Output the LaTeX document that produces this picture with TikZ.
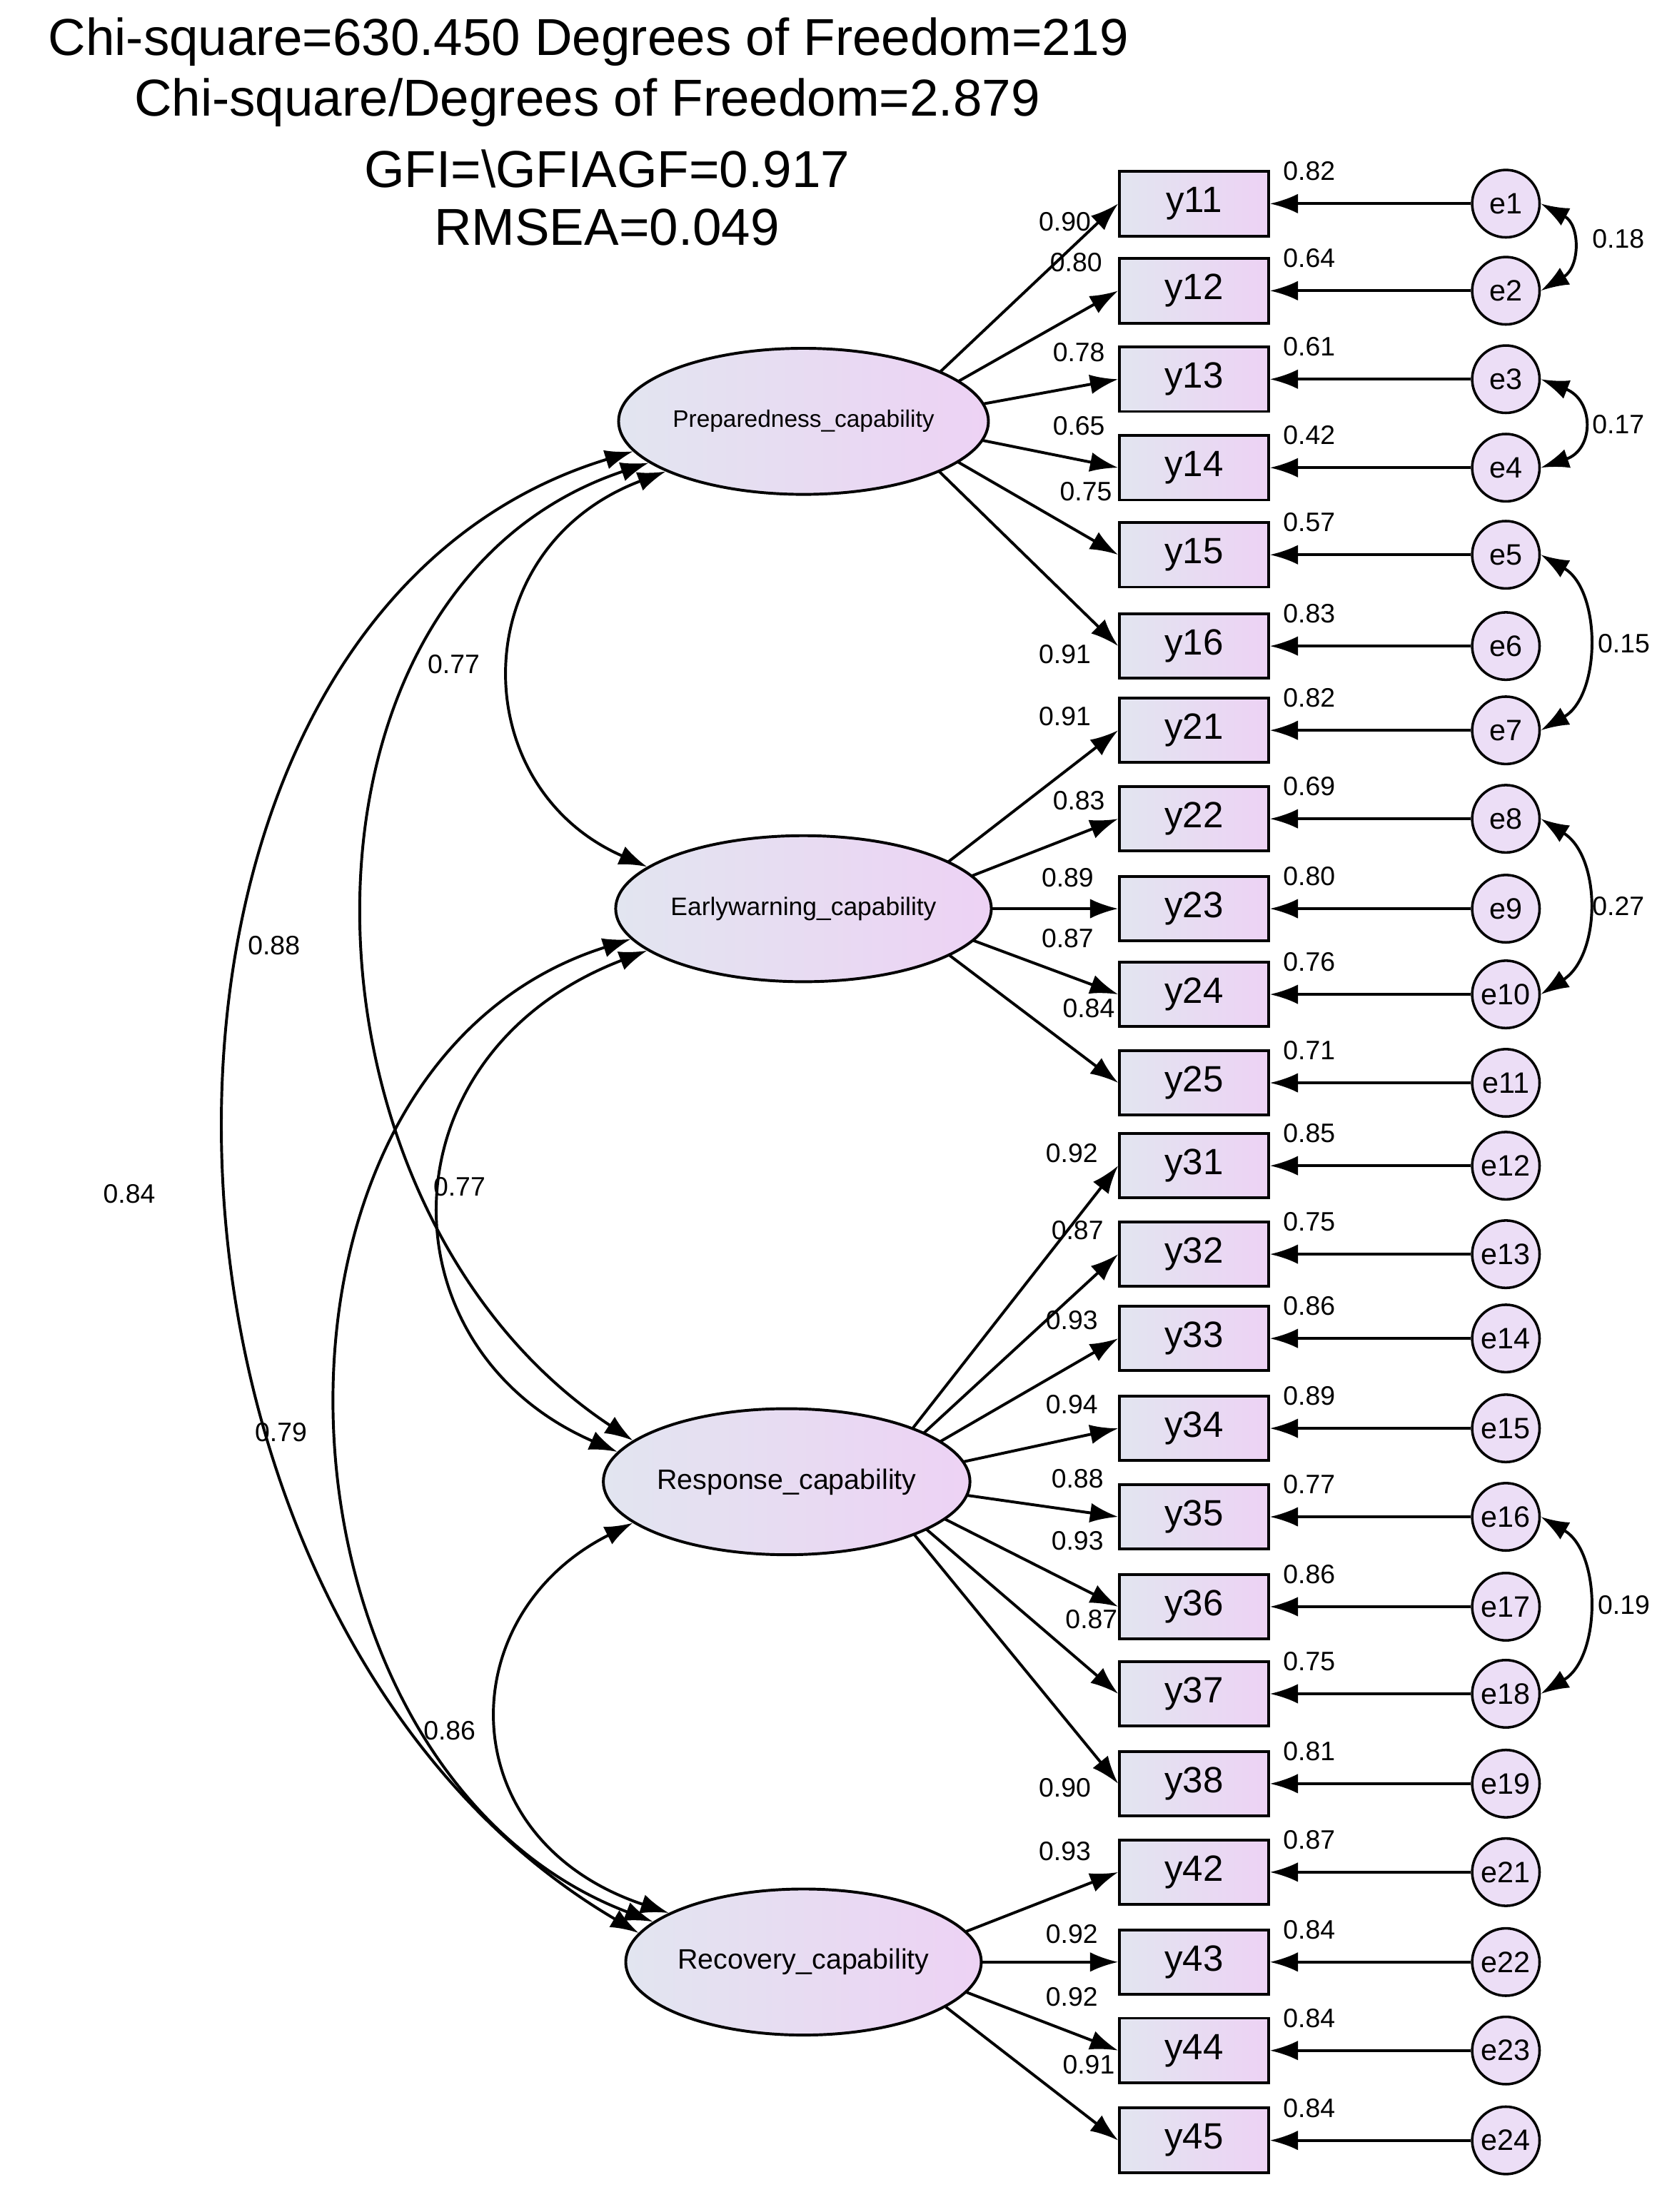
\documentclass[tikz,border=0pt]{standalone}
\usepackage{fontspec}
\setmainfont{Liberation Sans}
\usetikzlibrary{arrows.meta,shapes.geometric,backgrounds}
\definecolor{cl}{RGB}{226,229,240}
\definecolor{cr}{RGB}{237,210,244}
\definecolor{ce}{RGB}{236,222,246}
\begin{document}
\begin{tikzpicture}[x=1pt,y=-1pt,
  lat/.style={draw,line width=2pt,ellipse,minimum width=244,minimum height=104,inner sep=0pt,left color=cl,right color=cr,font=\fontsize{20}{22}\selectfont},
  obs/.style={draw,line width=2pt,minimum width=106,minimum height=46,inner sep=0pt,left color=cl,right color=cr,font=\fontsize{26}{28}\selectfont},
  err/.style={draw,line width=1.8pt,circle,minimum size=48,inner sep=0pt,fill=ce,font=\fontsize{21}{23}\selectfont},
  lab/.style={font=\fontsize{19}{21}\selectfont,inner sep=1pt},
  ar/.style={line width=2pt,-{Latex[length=20,width=14]}},
  dar/.style={line width=2pt,{Latex[length=20,width=14]}-{Latex[length=20,width=14]}},
  title/.style={font=\fontsize{37}{40}\selectfont}]
\useasboundingbox (0,0) rectangle (1190,1575);
\node[title] at (419,30) {Chi-square=630.450 Degrees of Freedom=219};
\node[title] at (418,73) {Chi-square/Degrees of Freedom=2.879};
\node[title] at (432,120) {GFI=\textbackslash GFIAGF=0.917};
\node[title] at (432,162) {RMSEA=0.049};

\node[lat,font=\fontsize{17}{19}\selectfont] (P) at (572,300) {Preparedness\_capability};
\node[lat,font=\fontsize{18}{20}\selectfont] (E) at (572,647) {Earlywarning\_capability};
\node[lat] (R) at (560,1055) {Response\_capability};
\node[lat] (C) at (572,1397) {Recovery\_capability};

\foreach \n/\y/\f/\lx/\ly/\l/\el [count=\i] in {
 y11/145/P/758/158/0.90/0.82, y12/207/P/766/187/0.80/0.64, y13/270/P/768/251/0.78/0.61,
 y14/333/P/768/303/0.65/0.42, y15/395/P/773/350/0.75/0.57, y16/460/P/758/466/0.91/0.83,
 y21/520/E/758/510/0.91/0.82, y22/583/E/768/570/0.83/0.69, y23/647/E/760/625/0.89/0.80,
 y24/708/E/760/668/0.87/0.76, y25/771/E/775/718/0.84/0.71,
 y31/830/R/763/821/0.92/0.85, y32/893/R/767/876/0.87/0.75, y33/953/R/763/940/0.93/0.86,
 y34/1017/R/763/1000/0.94/0.89, y35/1080/R/767/1053/0.88/0.77, y36/1144/R/767/1097/0.93/0.86,
 y37/1206/R/777/1153/0.87/0.75, y38/1270/R/758/1273/0.90/0.81,
 y42/1333/C/758/1318/0.93/0.87, y43/1397/C/763/1377/0.92/0.84, y44/1460/C/763/1422/0.92/0.84,
 y45/1524/C/775/1470/0.91/0.84}{
  \node[obs] (\n) at (850,\y) {\n};
  \pgfmathtruncatemacro{\en}{\i<20 ? \i : \i+1}
  \node[err] (e\en) at (1072,\y) {e\en};
  \begin{pgfonlayer}{background}
  \draw[ar] ([xshift=60pt]\f.center) -- (\n.west);
  \end{pgfonlayer}
  \draw[ar] (e\en) -- (\n.east);
  \node[lab] at (\lx,\ly) {\l};
  \node[lab] at (932,\y-23) {\el};
}
% error covariances
\draw[dar] (e1.east) .. controls (1125,160) and (1125,190) .. (e2.east);
\node[lab] at (1152,170) {0.18};
\draw[dar] (e3.east) .. controls (1135,285) and (1135,320) .. (e4.east);
\node[lab] at (1152,302) {0.17};
\draw[dar] (e5.east) .. controls (1140,420) and (1140,495) .. (e7.east);
\node[lab] at (1156,458) {0.15};
\draw[dar] (e8.east) .. controls (1140,610) and (1140,680) .. (e10.east);
\node[lab] at (1152,645) {0.27};
\draw[dar] (e16.east) .. controls (1140,1105) and (1140,1180) .. (e18.east);
\node[lab] at (1156,1143) {0.19};
% latent covariances
\draw[dar] (P.200) .. controls (330,390) and (330,560) .. (E.165);
\node[lab] at (323,473) {0.77};
\draw[dar] (P.195) .. controls (190,420) and (200,860) .. (R.165);
\node[lab] at (195,673) {0.88};
\draw[dar] (P.190) .. controls (60,440) and (70,1150) .. (C.170);
\node[lab] at (92,850) {0.84};
\draw[dar] (E.195) .. controls (270,750) and (270,960) .. (R.170);
\node[lab] at (327,845) {0.77};
\draw[dar] (E.190) .. controls (160,760) and (180,1260) .. (C.165);
\node[lab] at (200,1020) {0.79};
\draw[dar] (R.195) .. controls (320,1150) and (320,1310) .. (C.160);
\node[lab] at (320,1232) {0.86};
\end{tikzpicture}
\end{document}
